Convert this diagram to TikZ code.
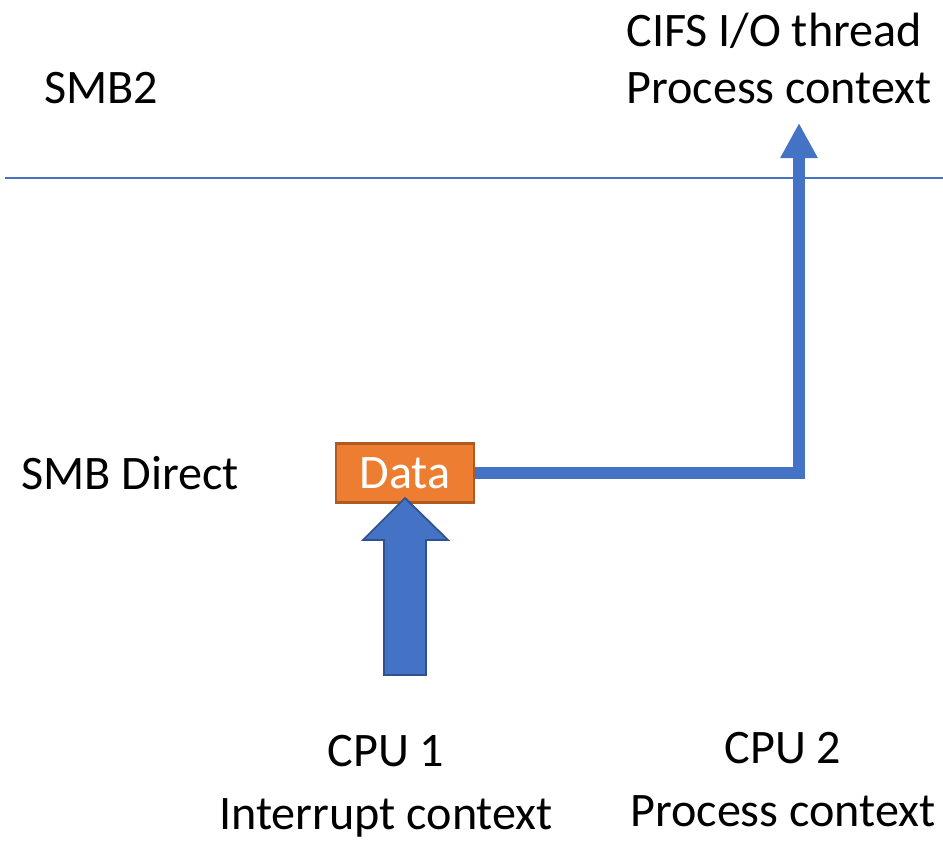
\documentclass[tikz,border=0pt]{standalone}
\usepackage{fontspec}
\setmainfont{Carlito}
\usetikzlibrary{arrows.meta, positioning}
\definecolor{Accent_Blue}{HTML}{4472C4}
\definecolor{Accent_BlueDark}{HTML}{2F528F}
\definecolor{Accent_Orange}{HTML}{ED7D31}
\definecolor{Accent_OrangeDark}{HTML}{AE5A21}

\begin{document}
\begin{tikzpicture}[x=0.2mm, y=-0.2mm, >=Stealth,
    font=\fontsize{27.4}{32}\selectfont,
    lbl/.style={inner sep=0pt, align=left},
    cpulbl/.style={inner sep=0pt, align=center},
    databox/.style={draw=Accent_OrangeDark, fill=Accent_Orange, text=white,
        line width=1.2pt, minimum width=2.76cm, minimum height=1.18cm, inner sep=0pt},
    flow/.style={Accent_Blue, line width=6.8pt,
        -{Triangle[length=20pt, width=20pt]}}]
    % Page frame
    \useasboundingbox (0,0) rectangle (943,841);

    % Layer divider
    \draw[Accent_Blue, line width=0.9pt] (5,178) -- (943,178);

    % Layer labels
    \node[lbl, anchor=west] (smbtwo) at (44,88) {SMB2};
    \node[lbl, anchor=west] (smbdirect) at (21,473) {SMB Direct};
    \node[lbl, anchor=north west] (cifs) at (626,13) {CIFS I/O thread\\Process context};

    % Data buffer
    \node[databox] (data) at (405,473) {Data};

    % Interrupt arrow (block)
    \filldraw[fill=Accent_Blue, draw=Accent_BlueDark, line width=1pt]
        (384,675) -- (384,540) -- (363,540) -- (405,498) -- (448,540)
        -- (426,540) -- (426,675) -- cycle;

    % Hand-off to the I/O thread
    \coordinate (top) at (799,123);
    \draw[flow] (data.east) -| (top);

    % CPU labels
    \node[cpulbl, anchor=north] (cpuone) at (386,735) {CPU 1\\[4pt]Interrupt context};
    \node[cpulbl, anchor=north] (cputwo) at (783,732) {CPU 2\\[4pt]Process context};
\end{tikzpicture}
\end{document}
